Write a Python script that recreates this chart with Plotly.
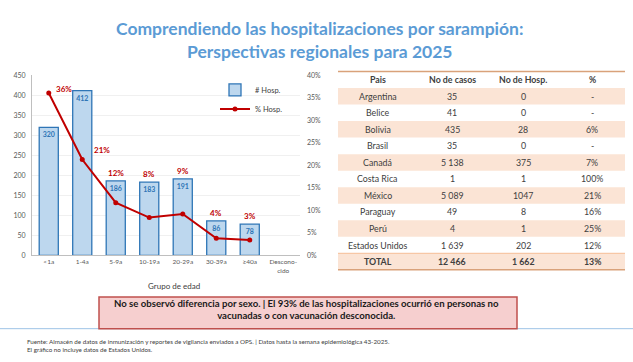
import plotly.graph_objects as go

W, H = 633, 362

# ---- data ----
age_groups = ["<1a", "1-4a", "5-9a", "10-19a", "20-29a", "30-39a", "≥40a", "Descono-<br>cido"]
hosp_counts = [320, 412, 186, 183, 191, 86, 78, None]
hosp_pct = [36.1, 21.3, 11.7, 8.4, 9.2, 3.8, 3.4, None]

countries = ["Argentina", "Belice", "Bolivia", "Brasil", "Canadá", "Costa Rica", "México",
             "Paraguay", "Perú", "Estados Unidos", "TOTAL"]
cases = ["35", "41", "435", "35", "5 138", "1", "5 089", "49", "4", "1 639", "12 466"]
hosp = ["0", "0", "28", "0", "375", "1", "1047", "8", "1", "202", "1 662"]
pct = ["-", "-", "6%", "-", "7%", "100%", "21%", "16%", "25%", "12%", "13%"]
table_header = ["Pais", "No de casos", "No de Hosp.", "%"]

title_text = "Comprendiendo las hospitalizaciones por sarampión:<br>Perspectivas regionales para 2025"
note_text = ("No se observó diferencia por sexo. | El 93% de las hospitalizaciones ocurrió en personas no"
             "<br>vacunadas o con vacunación desconocida.")
footer_text = ("Fuente: Almacén de datos de inmunización y reportes de vigilancia enviados a OPS. | "
               "Datos hasta la semana epidemiológica 43-2025.<br>El gráfico no incluye datos de Estados Unidos.")

FONT = "Lato"
def px(x): return x / W
def py(y): return 1 - y / H

fig = go.Figure()

fig.add_trace(go.Bar(
    x=age_groups, y=hosp_counts, name="# Hosp.",
    marker=dict(color="#BDD7EE", line=dict(color="#2E75B6", width=1.3)),
    width=0.57,
    text=[("" if v is None else str(v)) for v in hosp_counts],
    textposition="inside", insidetextanchor="end", textangle=0,
    textfont=dict(family=FONT, size=7, color="#2E75B6", weight="bold"),
    constraintext="none",
    hoverinfo="skip",
))
fig.add_trace(go.Scatter(
    x=age_groups, y=hosp_pct, name="% Hosp.", yaxis="y2",
    mode="lines+markers",
    line=dict(color="#C00000", width=2),
    marker=dict(color="#C00000", size=5),
    hoverinfo="skip",
))

annotations = []
for i, (cat, c, p) in enumerate(zip(age_groups, hosp_counts, hosp_pct)):
    if p is None:
        continue
    label = f"<b>{p:.0f}%</b>"
    if i == 0:
        annotations.append(dict(x=cat, y=p, xref="x", yref="y2", text=label, showarrow=False,
                                xanchor="left", yanchor="middle", xshift=5, yshift=4,
                                font=dict(family=FONT, size=8, color="#C00000")))
    elif i == 1:
        annotations.append(dict(x=cat, y=p, xref="x", yref="y2", text=label, showarrow=False,
                                xanchor="left", yanchor="middle", xshift=10, yshift=10,
                                font=dict(family=FONT, size=8, color="#C00000")))
    else:
        annotations.append(dict(x=cat, y=c, xref="x", yref="y", text=label, showarrow=False,
                                xanchor="center", yanchor="bottom", yshift=1,
                                font=dict(family=FONT, size=8, color="#C00000")))

# Titles and texts
annotations += [
    dict(x=0.505, y=py(36), xref="paper", yref="paper", text=f"<b>{title_text}</b>", showarrow=False,
         xanchor="center", yanchor="middle", align="center",
         font=dict(family=FONT, size=17.5, color="#5B9BD5")),
    dict(x=px(174), y=py(287), xref="paper", yref="paper", text="Grupo de edad", showarrow=False,
         xanchor="center", yanchor="middle", font=dict(family=FONT, size=8, color="#404040")),
    dict(x=px(306), y=py(311), xref="paper", yref="paper", text=f"<b>{note_text}</b>", showarrow=False,
         xanchor="center", yanchor="middle", align="center",
         font=dict(family=FONT, size=9.6, color="#1a1a1a")),
    dict(x=px(25), y=py(348), xref="paper", yref="paper", text=footer_text, showarrow=False,
         xanchor="left", yanchor="middle", align="left",
         font=dict(family=FONT, size=6.25, color="#404040")),
]

# ---- table (drawn as row bands + text, laid out from the data lists) ----
tbl_left, tbl_right, tbl_top = 338, 625, 68
row_h = 16.9
col_edges = [338, 417, 487, 559, 625]
col_centers = [(a + b) / 2 for a, b in zip(col_edges[:-1], col_edges[1:])]
n = len(countries)
shapes = []
for i in range(n):
    y0 = tbl_top + row_h * (i + 1)
    if i % 2 == 0:
        shapes.append(dict(type="rect", xref="paper", yref="paper", layer="below",
                           x0=px(tbl_left), x1=px(tbl_right), y0=py(y0 + row_h), y1=py(y0),
                           fillcolor="#FBE4D5", line=dict(width=0)))
for j, h in enumerate(table_header):
    annotations.append(dict(x=px(col_centers[j]), y=py(tbl_top + row_h / 2), xref="paper", yref="paper",
                            text=f"<b>{h}</b>", showarrow=False, xanchor="center", yanchor="middle",
                            font=dict(family=FONT, size=8.8, color="#404040")))
for j, col in enumerate([countries, cases, hosp, pct]):
    for i, v in enumerate(col):
        txt = f"<b>{v}</b>" if i == n - 1 else v
        annotations.append(dict(x=px(col_centers[j]), y=py(tbl_top + row_h * (i + 1.5)),
                                xref="paper", yref="paper", text=txt, showarrow=False,
                                xanchor="center", yanchor="middle",
                                font=dict(family=FONT, size=8.8, color="#404040")))
tbl_bottom = tbl_top + row_h * (n + 1)

shapes += [
    dict(type="line", xref="paper", yref="paper", x0=px(tbl_left), x1=px(tbl_right), y0=py(tbl_top), y1=py(tbl_top),
         line=dict(color="#D9A27A", width=1.5)),
    dict(type="line", xref="paper", yref="paper", x0=px(tbl_left), x1=px(tbl_right),
         y0=py(tbl_bottom - row_h), y1=py(tbl_bottom - row_h), line=dict(color="#F4B183", width=0.8)),
    dict(type="line", xref="paper", yref="paper", x0=px(tbl_left), x1=px(tbl_right), y0=py(tbl_bottom), y1=py(tbl_bottom),
         line=dict(color="#D9A27A", width=1.5)),
    dict(type="line", xref="paper", yref="paper", x0=0, x1=1, y0=py(331), y1=py(331),
         line=dict(color="#9DC3E6", width=1)),
    dict(type="rect", xref="paper", yref="paper", x0=px(99), x1=px(517), y0=py(331), y1=py(298.5),
         fillcolor="#F6CFCF", line=dict(color="#C0504D", width=1.5)),
]

fig.update_layout(
    width=W, height=H,
    margin=dict(l=0, r=0, t=0, b=0),
    paper_bgcolor="white", plot_bgcolor="white",
    font=dict(family=FONT, color="#595959"),
    showlegend=True,
    legend=dict(x=px(215), y=py(72), xanchor="left", yanchor="top",
                font=dict(family=FONT, size=7.5, color="#404040"),
                bgcolor="rgba(0,0,0,0)", itemwidth=30, tracegroupgap=0),
    xaxis=dict(domain=[px(32), px(300)], showline=True, linecolor="#BFBFBF", linewidth=1,
               ticks="", tickfont=dict(family=FONT, size=6.5, color="#595959"),
               showgrid=False, fixedrange=True),
    yaxis=dict(range=[0, 450], dtick=50, showline=True, linecolor="#BFBFBF", linewidth=1,
               domain=[py(256), py(72)],
               tickfont=dict(family=FONT, size=7, color="#595959"),
               showgrid=True, gridcolor="#F0F0F0", zeroline=False, ticklabelstandoff=4),
    yaxis2=dict(range=[0, 40], dtick=5, ticksuffix="%", overlaying="y", side="right",
                showline=False, showgrid=False, zeroline=False,
                tickfont=dict(family=FONT, size=7, color="#595959"), ticklabelstandoff=6),
    annotations=annotations,
    shapes=shapes,
    bargap=0.43,
)

fig.write_html("out.html", config={"displayModeBar": False},
               post_script="document.body.style.margin='0';document.body.style.overflow='hidden';")
